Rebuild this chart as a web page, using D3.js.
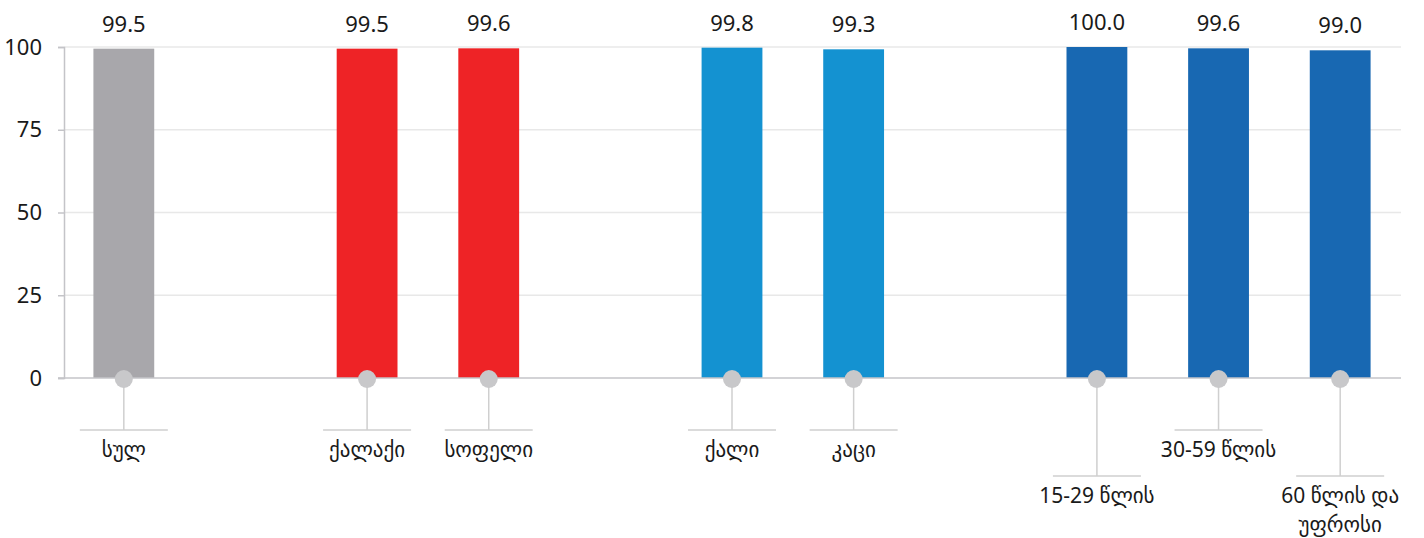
<!DOCTYPE html>
<html>
<head>
<meta charset="utf-8">
<script src="https://cdn.jsdelivr.net/npm/d3@7"></script>
<style>
  body { margin: 0; background: #fff; }
  text { font-family: "Noto Sans", "DejaVu Sans", sans-serif; fill: #1a1a1a; }
</style>
</head>
<body>
<svg width="1424" height="538"></svg>
<script>
// slots include empty gaps between groups
var slots = ["სულ", "gap1", "ქალაქი", "სოფელი", "gap2", "ქალი", "კაცი", "gap3",
             "15-29 წლის", "30-59 წლის", "60 წლის და უფროსი"];
var categories = ["სულ", "ქალაქი", "სოფელი", "ქალი", "კაცი",
                  "15-29 წლის", "30-59 წლის", "60 წლის და უფროსი"];
var values = [99.5, 99.5, 99.6, 99.8, 99.3, 100.0, 99.6, 99.0];
var groups = ["total", "area", "area", "sex", "sex", "age", "age", "age"];
var labelLines = [["სულ"], ["ქალაქი"], ["სოფელი"], ["ქალი"], ["კაცი"],
                  ["15-29 წლის"], ["30-59 წლის"], ["60 წლის და", "უფროსი"]];
var labelLevel = [0, 0, 0, 0, 0, 1, 0, 1];
var yTicks = [0, 25, 50, 75, 100];

function main() {
    var svg = d3.select("svg");

    var x = d3.scaleBand().domain(slots).range([63, 1401]).paddingInner(0.5).paddingOuter(0.25);
    var y = d3.scaleLinear().domain([0, 100]).range([378, 47]);

    var color = d3.scaleOrdinal()
        .domain(["total", "area", "sex", "age"])
        .range(["#a8a7ab", "#ee2326", "#1492d1", "#1868b2"]);

    var data = categories.map(function(c, i) {
        return { cat: c, value: values[i], group: groups[i], lines: labelLines[i], level: labelLevel[i] };
    });

    // gridlines
    svg.append("g").selectAll("line")
        .data(yTicks.filter(function(t) { return t > 0; }))
        .enter().append("line")
        .attr("x1", 64).attr("x2", 1401)
        .attr("y1", function(d) { return y(d); })
        .attr("y2", function(d) { return y(d); })
        .attr("stroke", "#e8e8e8").attr("stroke-width", 1.5);

    // y axis
    var yAxis = svg.append("g")
        .attr("transform", "translate(64,0)")
        .call(d3.axisLeft(y).tickValues(yTicks).tickSize(6).tickPadding(16));
    yAxis.select(".domain").attr("stroke", "#c4c4c8").attr("stroke-width", 1.5);
    yAxis.selectAll(".tick line").attr("stroke", "#c4c4c8").attr("stroke-width", 1.5);
    yAxis.selectAll(".tick text")
        .style("font-size", "22px")
        .style("font-family", "'Noto Sans', 'DejaVu Sans', sans-serif")
        .attr("fill", "#1a1a1a");

    // bars
    var bar = svg.append("g").selectAll("g")
        .data(data).enter().append("g");

    bar.append("rect")
        .attr("x", function(d) { return x(d.cat); })
        .attr("width", x.bandwidth())
        .attr("y", function(d) { return y(d.value); })
        .attr("height", function(d) { return y(0) - y(d.value); })
        .attr("fill", function(d) { return color(d.group); });

    bar.append("text")
        .attr("x", function(d) { return x(d.cat) + x.bandwidth() / 2; })
        .attr("y", function(d) { return y(d.value) - 17; })
        .attr("text-anchor", "middle")
        .style("font-size", "22px")
        .text(function(d) { return d.value.toFixed(1); });

    // x baseline
    svg.append("line")
        .attr("x1", 58).attr("x2", 1401)
        .attr("y1", y(0)).attr("y2", y(0))
        .attr("stroke", "#c4c4c8").attr("stroke-width", 1.5);

    // leader lines + labels
    var lab = svg.append("g").selectAll("g")
        .data(data).enter().append("g")
        .attr("transform", function(d) {
            return "translate(" + (x(d.cat) + x.bandwidth() / 2) + ",0)";
        });

    var lineY = function(d) { return d.level ? 476 : 430; };

    lab.append("line")
        .attr("x1", 0).attr("x2", 0)
        .attr("y1", y(0)).attr("y2", lineY)
        .attr("stroke", "#cfcfcf").attr("stroke-width", 1.5);

    lab.append("line")
        .attr("x1", -44).attr("x2", 44)
        .attr("y1", lineY).attr("y2", lineY)
        .attr("stroke", "#cfcfcf").attr("stroke-width", 1.5);

    lab.append("circle")
        .attr("cx", 0).attr("cy", y(0) + 1)
        .attr("r", 9)
        .attr("fill", "#c8c8ca");

    lab.append("text")
        .attr("text-anchor", "middle")
        .style("font-size", "21px")
        .selectAll("tspan")
        .data(function(d) {
            return d.lines.map(function(l, i) { return { t: l, i: i, base: lineY(d) + 27 }; });
        })
        .enter().append("tspan")
        .attr("x", 0)
        .attr("y", function(s) { return s.base + s.i * 29; })
        .text(function(s) { return s.t; });
}
main();
</script>
</body>
</html>
